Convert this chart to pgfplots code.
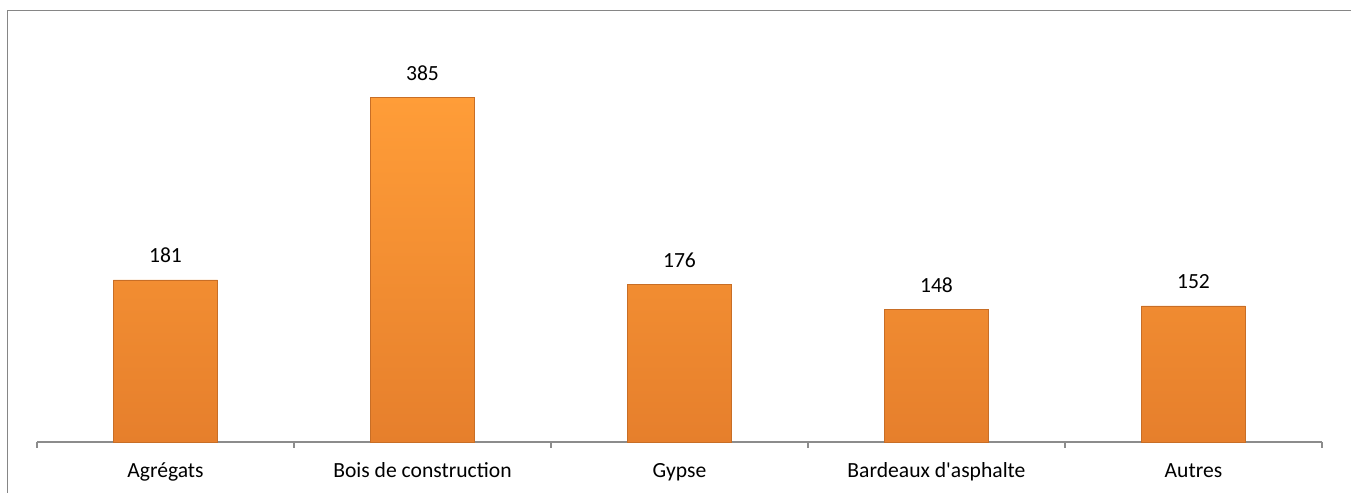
\documentclass[border=0pt]{standalone}
\usepackage{pgfplots}
\pgfplotsset{compat=1.18}
\usepackage{fontspec}
\setmainfont{Carlito}[Ligatures=TeXOff]
\definecolor{frame}{HTML}{868686}
\definecolor{axisgray}{HTML}{8C8C8C}
\definecolor{bartop}{HTML}{FF9D38}
\definecolor{barbot}{HTML}{E67F2C}
\definecolor{baredge}{HTML}{C86E26}
\begin{document}
\begin{tikzpicture}[x=0.5pt,y=0.5pt]
\useasboundingbox (0,0) rectangle (1351,493);
\draw[frame, line width=0.75pt] (7.7,0) -- (7.7,482.5) -- (1351,482.5);
\begin{axis}[
  at={(18.5pt,25.5pt)}, anchor=south west,
  scale only axis,
  width=642.5pt, height=201.6pt,
  xmin=-0.5, xmax=4.5, ymin=0, ymax=450,
  axis x line=bottom, axis y line=none,
  axis line style={-, axisgray, line width=0.6pt},
  xtick={0,1,2,3,4},
  xticklabels={Agrégats, Bois de construction, Gypse, Bardeaux d'asphalte, Autres},
  major tick length=0pt,
  minor xtick={-0.5,0.5,1.5,2.5,3.5,4.5},
  minor tick length=3pt,
  tick align=outside,
  minor tick style={axisgray, line width=0.6pt},
  xticklabel style={anchor=base, inner sep=0pt, yshift=-18pt, font=\fontsize{10.8}{13}\selectfont},
  /pgf/number format/assume math mode=true,
  ybar, bar width=52pt,
  nodes near coords,
  every node near coord/.append style={anchor=base, inner sep=0pt, yshift=8.5pt, font=\fontsize{10.8}{13}\selectfont, black},
  clip=false,
]
\addplot[draw=baredge, line width=0.3pt, top color=bartop, bottom color=barbot]
  coordinates {(0,181) (1,385) (2,176) (3,148) (4,152)};
\end{axis}
\end{tikzpicture}
\end{document}
